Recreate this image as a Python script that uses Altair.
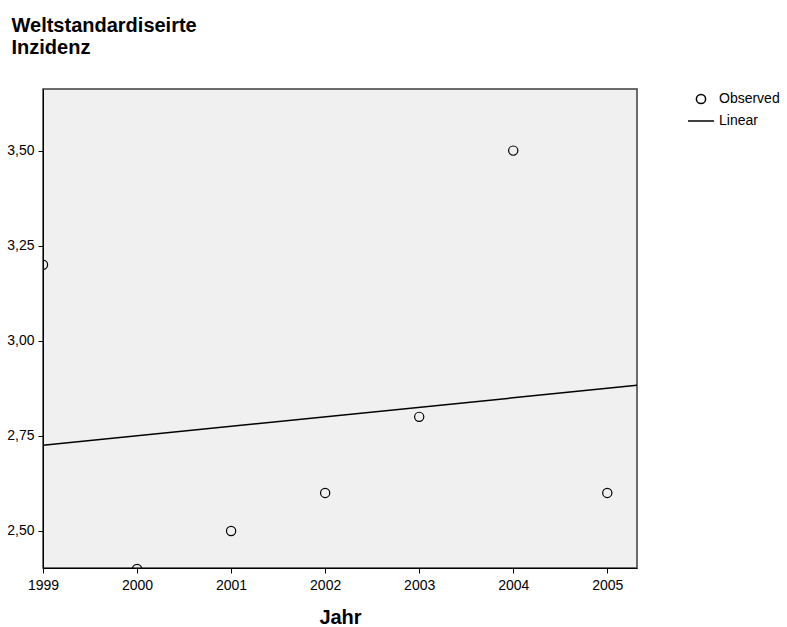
import altair as alt
import pandas as pd

# Yearly world-standardised incidence
years = [1999, 2000, 2001, 2002, 2003, 2004, 2005]
incidence = [3.20, 2.40, 2.50, 2.60, 2.80, 3.50, 2.60]
series = ["Observed"] * len(years)

y_ticks = [2.50, 2.75, 3.00, 3.25, 3.50]
x_domain = [1999, 2005.316]
y_domain = [2.4026, 3.662]

df = pd.DataFrame({"Jahr": years, "Inzidenz": incidence, "series": series})

FONT = "Liberation Sans"

x_enc = alt.X(
    "Jahr:Q",
    scale=alt.Scale(domain=x_domain, nice=False, zero=False),
    axis=alt.Axis(
        values=years, format="d", title="Jahr", grid=False,
        titleFontSize=20, titleFontWeight="bold", titleFont=FONT,
        titleBaseline="alphabetic", titleY=55, titleX=297, titleAlign="center",
        labelFontSize=14, labelFont=FONT, labelPadding=5,
        labelFlush=False, labelOverlap=False,
        tickSize=5, tickColor="black", domainColor="black",
        labelColor="black", titleColor="black",
    ),
)
y_enc = alt.Y(
    "Inzidenz:Q",
    scale=alt.Scale(domain=y_domain, nice=False, zero=False),
    axis=alt.Axis(
        values=y_ticks, grid=False,
        labelExpr="replace(format(datum.value, '.2f'), '.', ',')",
        title=["Weltstandardiseirte", "Inzidenz"],
        titleAngle=0, titleAlign="left", titleBaseline="alphabetic",
        titleX=-32, titleY=-58, titleFontSize=20, titleFontWeight="bold",
        titleFont=FONT, titleLineHeight=22,
        labelFontSize=14, labelFont=FONT, labelPadding=4,
        labelFlush=False,
        tickSize=5, tickColor="black", domainColor="black",
        labelColor="black", titleColor="black",
    ),
)

legend_domain = ["Observed", "Linear"]

points = alt.Chart(df).mark_point(
    filled=False, strokeWidth=1.2, clip=True, opacity=1
).encode(
    x=x_enc,
    y=y_enc,
    color=alt.value("black"),
    shape=alt.Shape(
        "series:N",
        scale=alt.Scale(domain=legend_domain, range=["circle", "stroke"]),
        legend=alt.Legend(
            title=None, orient="none", legendX=644, legendY=3,
            labelFontSize=14, labelFont=FONT, labelColor="black",
            symbolStrokeColor="black", symbolFillColor="transparent",
            symbolStrokeWidth=1.5, labelOffset=4, rowPadding=-1, padding=0,
        ),
    ),
    size=alt.Size(
        "series:N",
        scale=alt.Scale(domain=legend_domain, range=[85, 676]),
        legend=alt.Legend(title=None),
    ),
)

fit = alt.Chart(df).transform_regression(
    "Jahr", "Inzidenz", extent=x_domain
).mark_line(color="black", strokeWidth=1.5, clip=True).encode(
    x="Jahr:Q", y="Inzidenz:Q"
)

chart = alt.layer(fit, points).properties(
    width=594,
    height=479,
    autosize=alt.AutoSizeParams(type="none"),
    padding={"left": 43, "top": 89, "right": 150, "bottom": 59},
    background="white",
).configure_view(
    fill="#f0f0f0", stroke="#3c3c3c", strokeWidth=1.5
)

chart.save("out.html", embed_options={"renderer": "svg", "actions": False})
